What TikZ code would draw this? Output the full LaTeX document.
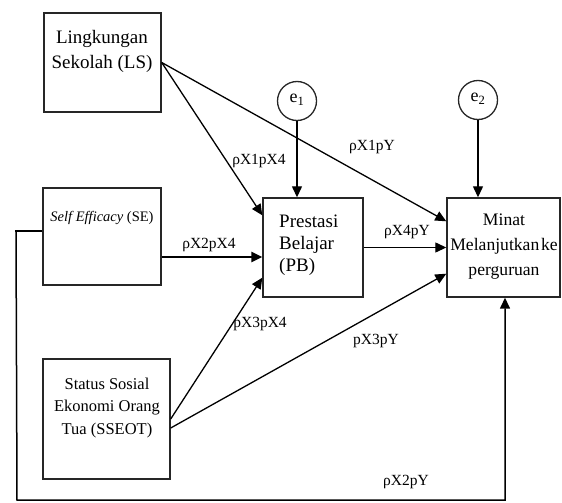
\documentclass[tikz,border=0pt]{standalone}
\usepackage{fontspec}
\setmainfont{Liberation Serif}
\usetikzlibrary{arrows.meta,calc}
\begin{document}
\begin{tikzpicture}[x=1pt,y=-1pt,
  box/.style={draw=black!85,line width=1.4pt,inner sep=0pt},
  circ/.style={draw=black!85,line width=1.3pt,circle,inner sep=0pt,minimum size=39pt},
  conn/.style={line width=1.3pt,-{Triangle[length=11pt,width=10pt]}},
  thickconn/.style={line width=2.8pt,-{Triangle[length=11pt,width=10pt]}},
  lab/.style={font=\fontsize{15.5}{15.5}\selectfont,inner sep=0pt}]
\useasboundingbox (0,0) rectangle (562,503);
% boxes
\node[box,minimum width=117pt,minimum height=99pt] (ls) at (102.5,62.5) {};
\node[box,minimum width=118pt,minimum height=97pt] (se) at (102,236.5) {};
\node[box,minimum width=100pt,minimum height=99pt] (pb) at (313,247.5) {};
\node[box,minimum width=113pt,minimum height=99pt] (mi) at (503.5,247.5) {};
\node[box,minimum width=127pt,minimum height=120pt] (ss) at (106.5,419) {};
\node[circ] (e1) at (297,101) {};
\node[circ] (e2) at (478,100) {};
% texts
\node[align=center,font=\fontsize{19}{25}\selectfont,inner sep=0pt] (lst) at (102,51) {Lingkungan\\Sekolah (LS)};
\node[font=\fontsize{14.5}{17}\selectfont,inner sep=0pt] (set) at (102,218) {\textit{Self Efficacy} (SE)};
\node[align=left,anchor=west,font=\fontsize{19}{22}\selectfont,inner sep=0pt] (pbt) at (279,245) {Prestasi\\Belajar\\(PB)};
\node[align=center,font=\fontsize{17.6}{25}\selectfont,inner sep=0pt] (mit) at (504,247) {Minat\\Melanjutkan\hspace{0.1em}ke\\perguruan};
\node[align=center,font=\fontsize{16.5}{22.5}\selectfont,inner sep=0pt] (sst) at (107,408) {Status Sosial\\Ekonomi Orang\\Tua (SSEOT)};
\node[font=\fontsize{18}{18}\selectfont,inner sep=0pt] (e1t) at (297,100) {e\textsubscript{1}};
\node[font=\fontsize{18}{18}\selectfont,inner sep=0pt] (e2t) at (478,99) {e\textsubscript{2}};
% connectors
\draw[conn] (ls.east) -- ([yshift=-18pt]pb.north west);
\draw[conn] (ls.east) -- ([yshift=-24pt]mi.north west);
\draw[conn] (e1.south) -- (e1.south |- pb.north);
\draw[conn] (e2.south) -- (e2.south |- mi.north);
\draw[thickconn] ([yshift=-20.5pt]se.east) -- ([yshift=-20.5pt]se.east -| pb.west);
\draw[conn] (pb.east) -- (mi.west);
\draw[conn] (ss.east) -- ([yshift=20pt]pb.south west);
\draw[conn] ([yshift=-9pt]ss.east) -- ([yshift=24pt]mi.south west);
\coordinate (c1) at (16,231);
\coordinate (c2) at (17,500);
\coordinate (c3) at (505,500);
\draw[line width=2.8pt] ([yshift=5.5pt]se.west) -- ([xshift=-0.7pt]c1);
\draw[conn,line width=1.5pt] (c1) -- (c2) -- (c3) -- (c3 |- mi.south);
% labels
\node[lab] (l1) at (259,161) {ρX1pX4};
\node[lab] (l2) at (372,147) {ρX1pY};
\node[lab] (l3) at (209,245) {ρX2pX4};
\node[lab] (l4) at (407,232) {ρX4pY};
\node[lab] (l5) at (260,324) {pX3pX4};
\node[lab] (l6) at (376,341) {pX3pY};
\node[lab] (l7) at (406,482) {ρX2pY};
\end{tikzpicture}
\end{document}
